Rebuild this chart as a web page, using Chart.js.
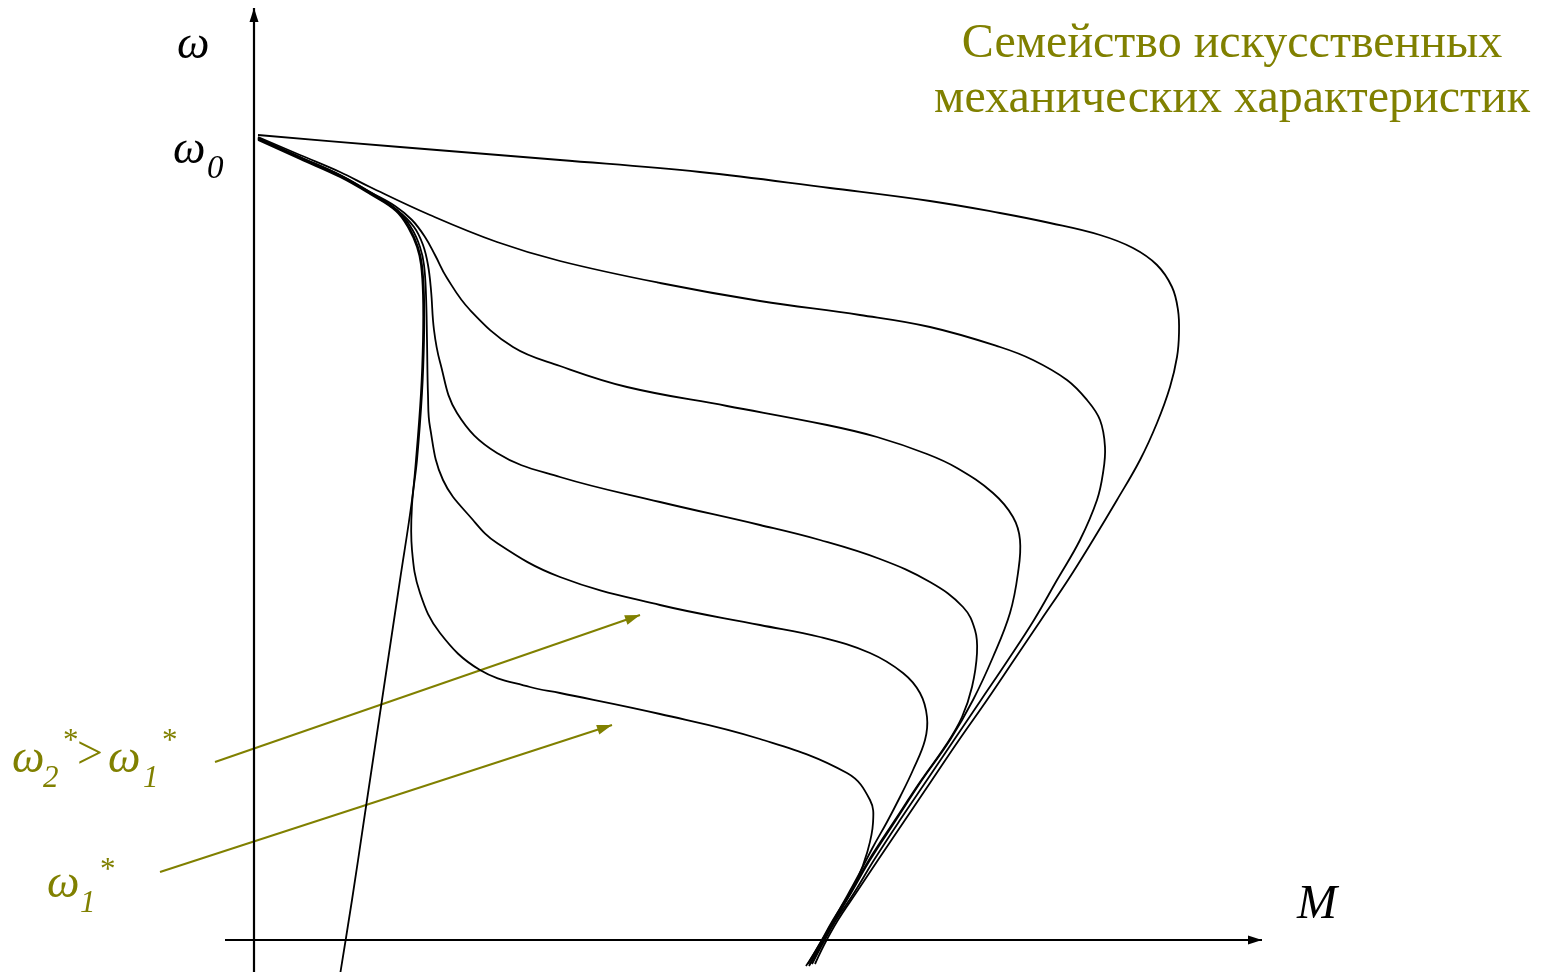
<!DOCTYPE html>
<html>
<head>
<meta charset="utf-8">
<script src="https://cdn.jsdelivr.net/npm/chart.js@4/dist/chart.umd.min.js"></script>
<style>
html,body{margin:0;padding:0;background:#fff;overflow:hidden;}
#wrap{width:1546px;height:972px;position:relative;}
</style>
</head>
<body>
<div id="wrap"><canvas id="c" width="1546" height="972"></canvas></div>
<script>
// Values: M (torque) and ω (speed), arbitrary units.
const curveA = [[0.04,8.05],[1.46,7.93],[3.06,7.80],[4.46,7.68],[5.76,7.52],[6.76,7.39],[7.46,7.27],[7.96,7.17],[8.46,7.05],[8.79,6.92],[9.03,6.75],[9.18,6.53],[9.24,6.30],[9.25,6.07],[9.23,5.83],[9.16,5.53],[9.03,5.17],[8.86,4.80],[8.63,4.40],[8.39,4.00],[8.14,3.60],[7.87,3.20],[7.60,2.80],[7.33,2.40],[7.05,2.00],[6.78,1.60],[6.51,1.20],[6.24,0.80],[6.02,0.47],[5.84,0.20],[5.70,-0.05],[5.61,-0.24]];
const curveB = [[0.04,8.03],[0.46,7.85],[0.86,7.68],[1.16,7.53],[1.76,7.25],[2.43,6.98],[3.06,6.79],[4.06,6.57],[5.06,6.39],[6.06,6.25],[6.76,6.13],[7.46,5.93],[7.79,5.80],[8.13,5.60],[8.33,5.40],[8.46,5.20],[8.51,4.93],[8.49,4.67],[8.43,4.40],[8.26,4.00],[8.03,3.60],[7.80,3.20],[7.54,2.80],[7.27,2.40],[7.00,2.00],[6.73,1.60],[6.46,1.20],[6.20,0.80],[6.00,0.47],[5.82,0.20],[5.68,-0.05],[5.58,-0.24]];
const curveC = [[0.04,8.02],[0.46,7.83],[0.86,7.65],[1.16,7.48],[1.41,7.34],[1.58,7.20],[1.71,7.03],[1.81,6.85],[1.93,6.62],[2.16,6.30],[2.59,5.93],[3.06,5.74],[3.73,5.53],[4.73,5.34],[5.73,5.15],[6.23,5.03],[6.73,4.86],[7.03,4.72],[7.39,4.47],[7.59,4.23],[7.66,4.00],[7.64,3.67],[7.56,3.27],[7.39,2.83],[7.19,2.40],[6.96,2.00],[6.68,1.60],[6.42,1.20],[6.16,0.80],[5.97,0.47],[5.80,0.20],[5.66,-0.05],[5.56,-0.24]];
const curveD = [[0.04,8.02],[0.46,7.83],[0.86,7.65],[1.16,7.48],[1.43,7.30],[1.60,7.13],[1.69,6.95],[1.74,6.75],[1.77,6.50],[1.80,6.10],[1.86,5.78],[2.03,5.27],[2.43,4.87],[3.06,4.63],[4.06,4.38],[5.06,4.15],[5.66,4.00],[6.26,3.81],[6.76,3.58],[7.09,3.33],[7.21,3.10],[7.23,2.87],[7.18,2.53],[7.08,2.23],[6.92,1.95],[6.66,1.58],[6.41,1.20],[6.15,0.80],[5.96,0.47],[5.79,0.20],[5.65,-0.05],[5.54,-0.24]];
const curveE = [[0.04,8.01],[0.46,7.82],[0.86,7.64],[1.16,7.47],[1.44,7.29],[1.58,7.11],[1.66,6.93],[1.70,6.75],[1.72,6.45],[1.73,6.00],[1.74,5.45],[1.76,5.13],[1.89,4.60],[2.19,4.20],[2.43,3.97],[3.06,3.63],[4.06,3.35],[5.06,3.15],[5.66,3.03],[6.16,2.87],[6.49,2.67],[6.66,2.47],[6.73,2.23],[6.71,2.00],[6.59,1.70],[6.46,1.43],[6.33,1.18],[6.19,0.93],[6.03,0.62],[5.88,0.35],[5.74,0.10],[5.61,-0.12],[5.52,-0.26]];
const curveF = [[0.04,8.01],[0.46,7.82],[0.86,7.64],[1.16,7.47],[1.43,7.29],[1.56,7.11],[1.64,6.93],[1.68,6.75],[1.70,6.45],[1.70,6.00],[1.68,5.47],[1.63,4.80],[1.58,4.35],[1.58,3.90],[1.66,3.47],[1.86,3.07],[2.26,2.70],[2.76,2.53],[3.06,2.47],[4.06,2.26],[5.06,2.01],[5.93,1.67],[6.16,1.40],[6.19,1.17],[6.13,0.87],[6.03,0.60],[5.86,0.28],[5.70,0.00],[5.55,-0.26]];
const curveNatural = [[0.04,8.00],[0.46,7.81],[0.86,7.63],[1.16,7.46],[1.42,7.29],[1.55,7.11],[1.63,6.93],[1.67,6.75],[1.69,6.45],[1.69,6.00],[1.67,5.47],[1.62,4.80],[1.58,4.40],[1.46,3.60],[1.34,2.80],[1.22,2.00],[1.10,1.20],[0.98,0.40],[0.86,-0.35]];

// Axes (M horizontal, ω vertical)
const axisM = [[-0.29,0],[10.08,0]];
const axisW = [[0,-0.32],[0,9.32]];
// Olive pointer arrows
const arrowW2 = [[-0.39,1.78],[3.86,3.25]];
const arrowW1 = [[-0.94,0.68],[3.58,2.15]];

const titleLines = ['Семейство искусственных','механических характеристик'];

const OLIVE = '#808000';
const toXY = a => a.map(p => ({x:p[0], y:p[1]}));
const curveDs = (arr) => ({data: toXY(arr), showLine:true, borderColor:'#000', borderWidth:1.8, pointRadius:0, tension:0.4, fill:false});

const datasets = [
  curveDs(curveA), curveDs(curveB), curveDs(curveC), curveDs(curveD),
  curveDs(curveE), curveDs(curveF), curveDs(curveNatural),
  {data: toXY(axisM), showLine:true, borderColor:'#000', borderWidth:2.2, pointRadius:0, tension:0},
  {data: toXY(axisW), showLine:true, borderColor:'#000', borderWidth:2.2, pointRadius:0, tension:0},
  {data: toXY(arrowW2), showLine:true, borderColor:OLIVE, borderWidth:2, pointRadius:0, tension:0},
  {data: toXY(arrowW1), showLine:true, borderColor:OLIVE, borderWidth:2, pointRadius:0, tension:0}
];

const SERIF = '"Liberation Serif", "DejaVu Serif", serif';

const decor = {
  id: 'decor',
  afterDatasetsDraw(chart) {
    const ctx = chart.ctx;
    const sx = chart.scales.x, sy = chart.scales.y;
    const P = (m, w) => [sx.getPixelForValue(m), sy.getPixelForValue(w)];
    function head(seg, color, L, H) {
      const [fx, fy] = P(seg[0][0], seg[0][1]);
      const [tx, ty] = P(seg[1][0], seg[1][1]);
      const dx = tx - fx, dy = ty - fy, len = Math.hypot(dx, dy);
      const ux = dx/len, uy = dy/len;
      const bx = tx - ux*L, by = ty - uy*L;
      ctx.save();
      ctx.fillStyle = color;
      ctx.beginPath();
      ctx.moveTo(tx, ty);
      ctx.lineTo(bx - uy*H, by + ux*H);
      ctx.lineTo(bx + uy*H, by - ux*H);
      ctx.closePath();
      ctx.fill();
      ctx.restore();
    }
    head(axisM, '#000', 14, 4.5);
    head(axisW, '#000', 14, 4.5);
    head(arrowW2, OLIVE, 15, 5);
    head(arrowW1, OLIVE, 15, 5);

    function txt(s, m, w, font, color, align) {
      const [x, y] = P(m, w);
      ctx.save();
      ctx.font = font;
      ctx.fillStyle = color;
      ctx.textAlign = align || 'left';
      ctx.textBaseline = 'alphabetic';
      ctx.fillText(s, x, y);
      ctx.restore();
    }
    const big = 'italic 46px ' + SERIF;
    const sub = 'italic 31px ' + SERIF;
    const star = '31px ' + SERIF;
    // axis labels
    txt('ω', -0.77, 8.82, big, '#000');
    txt('ω', -0.81, 7.77, big, '#000');
    txt('0', -0.47, 7.62, 'italic 33px ' + SERIF, '#000');
    txt('M', 10.43, 0.22, 'italic 48px ' + SERIF, '#000');
    // title
    txt(titleLines[0], 9.78, 8.83, '48px ' + SERIF, OLIVE, 'center');
    txt(titleLines[1], 9.78, 8.28, '48px ' + SERIF, OLIVE, 'center');
    // ω2* > ω1*
    txt('ω', -2.42, 1.68, big, OLIVE);
    txt('2', -2.11, 1.53, sub, OLIVE);
    txt('*', -1.91, 1.90, star, OLIVE);
    txt('>', -1.77, 1.72, '46px ' + SERIF, OLIVE);
    txt('ω', -1.46, 1.68, big, OLIVE);
    txt('1', -1.11, 1.53, sub, OLIVE);
    txt('*', -0.92, 1.90, star, OLIVE);
    // ω1*
    txt('ω', -2.07, 0.43, big, OLIVE);
    txt('1', -1.74, 0.28, sub, OLIVE);
    txt('*', -1.54, 0.61, star, OLIVE);
  }
};

new Chart(document.getElementById('c'), {
  type: 'scatter',
  data: { datasets },
  options: {
    responsive: false,
    animation: false,
    events: [],
    layout: { padding: 0 },
    plugins: { legend: { display: false }, tooltip: { enabled: false }, title: { display: false } },
    scales: {
      x: { type: 'linear', min: -2.54, max: 12.92, display: false },
      y: { type: 'linear', min: -0.32, max: 9.40, display: false }
    }
  },
  plugins: [decor]
});
</script>
</body>
</html>
